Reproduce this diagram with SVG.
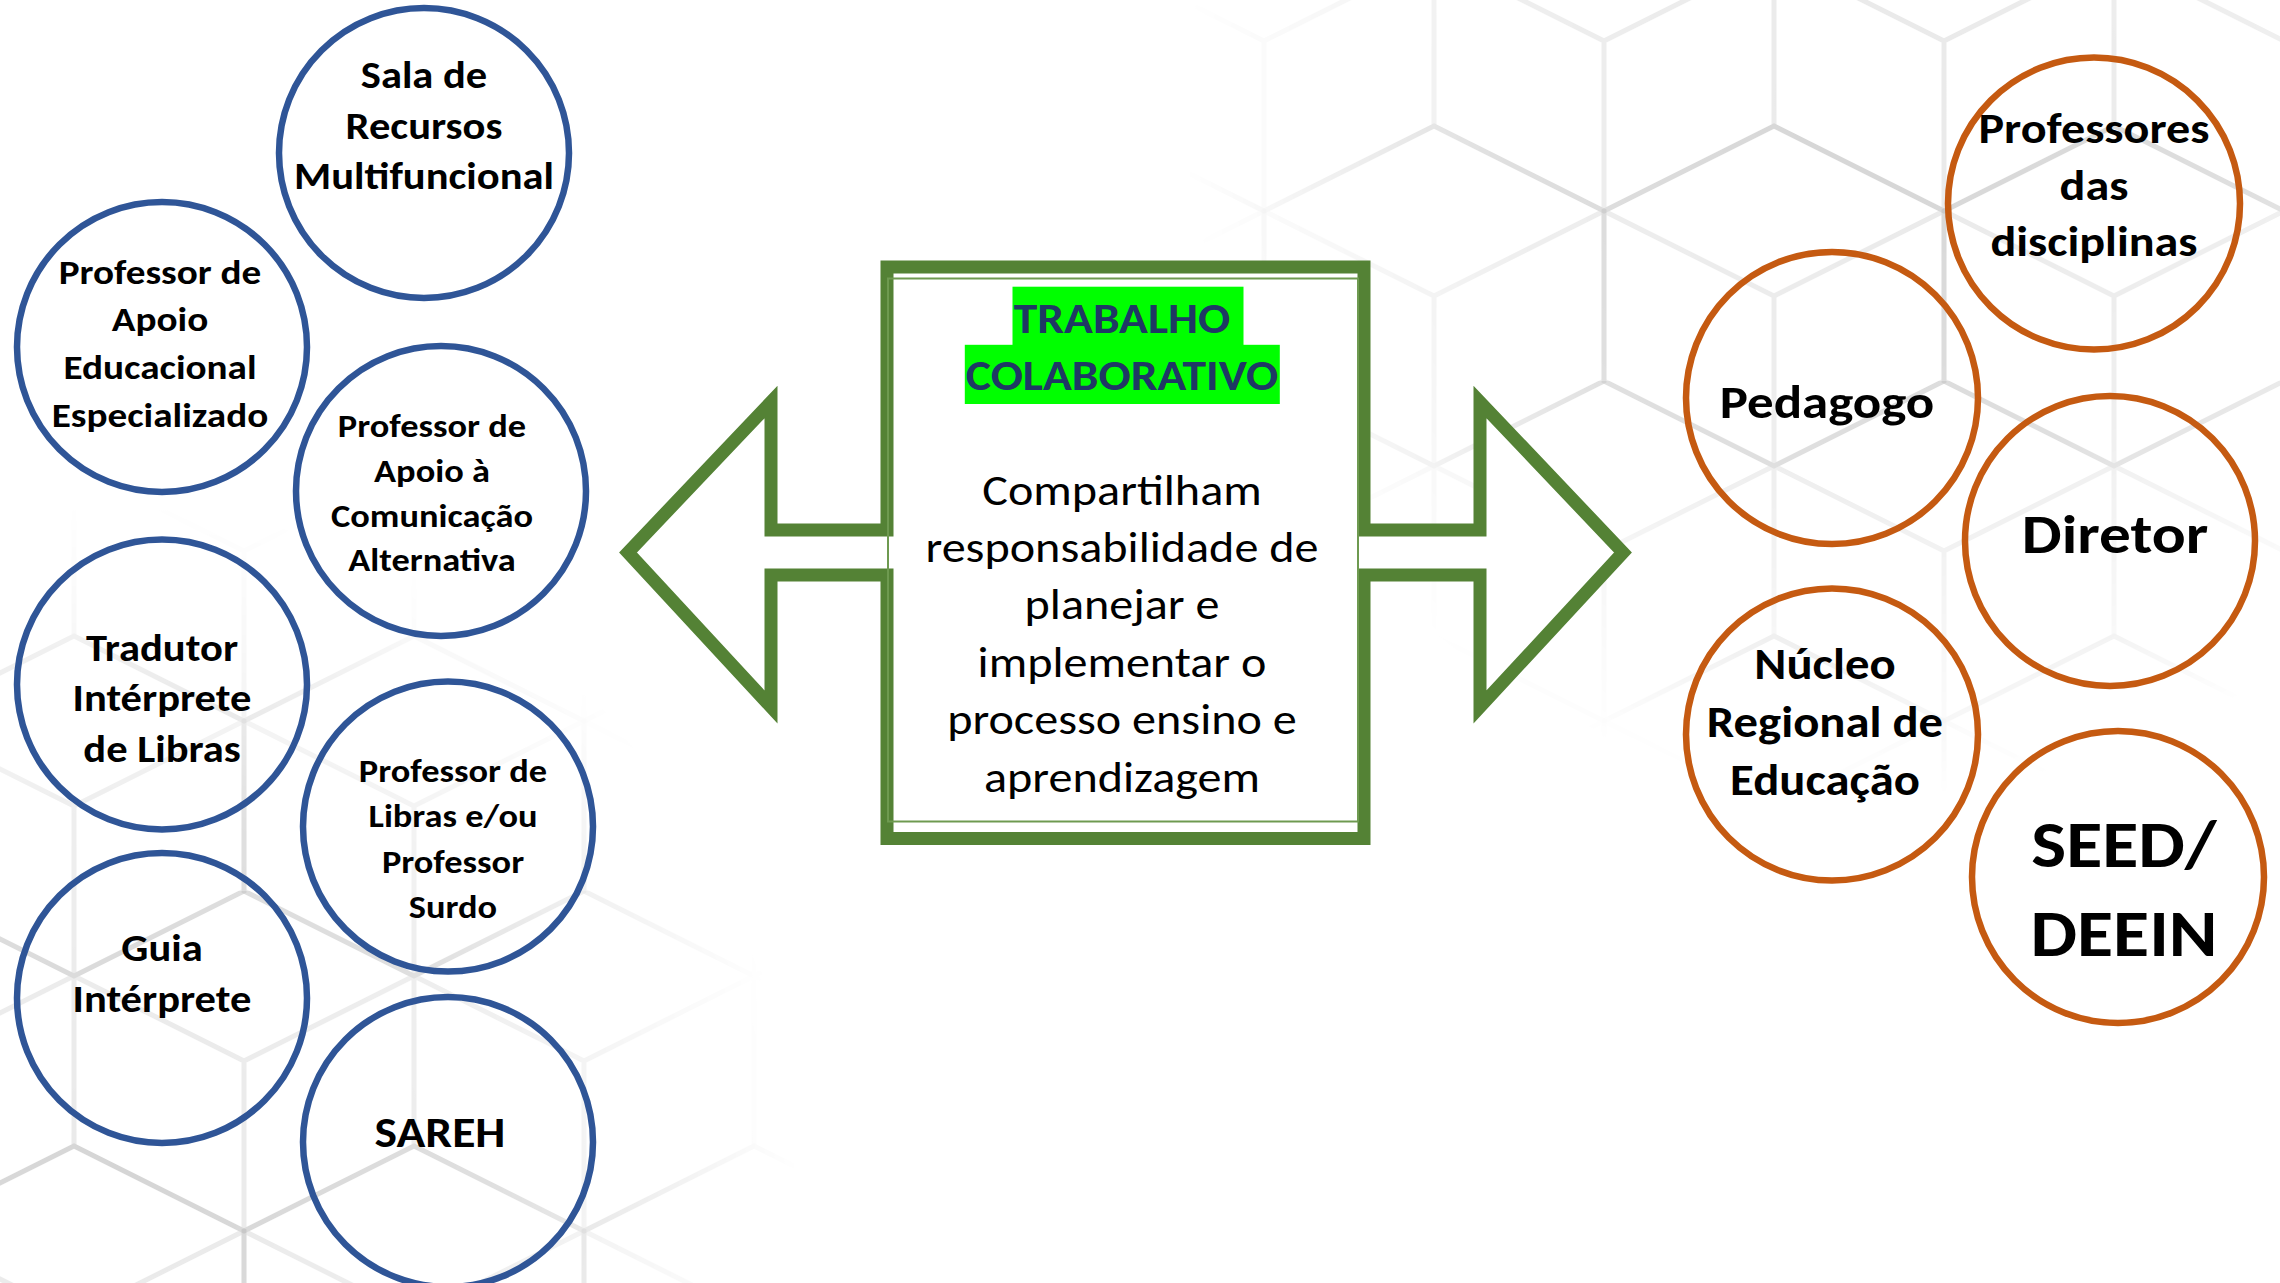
<svg xmlns="http://www.w3.org/2000/svg" width="2280" height="1283" viewBox="0 0 2280 1283">
<defs>
<style>
.bc{fill:none;stroke:#2F5597;stroke-width:6.5}
.oc{fill:none;stroke:#C55A11;stroke-width:6.5}
text{transform-box:fill-box;transform-origin:center;transform:scaleX(1.12)}
.w{transform:scaleX(1.15)}
.t{font-family:Carlito,Calibri,Lato,sans-serif;font-weight:bold;fill:#000;text-anchor:middle}
.b{font-family:Carlito,Calibri,Lato,sans-serif;font-weight:normal;fill:#000;text-anchor:middle;font-size:43px}
.h{font-family:Carlito,Calibri,Lato,sans-serif;font-weight:bold;fill:#1F3864;text-anchor:middle;font-size:42.5px}
.cube{fill:none;stroke:#000;stroke-opacity:0.085;stroke-width:5}
</style>
<pattern id="cubes" patternUnits="userSpaceOnUse" width="340" height="510" patternTransform="translate(1434,-129)">
<g class="cube">
<path id="cb" d="M170,0 L340,85 L340,255 L170,340 L0,255 L0,85 Z M0,85 L170,170 L340,85 M170,170 L170,340"/>
<use href="#cb" x="170" y="255"/>
<use href="#cb" x="-170" y="255"/>
<use href="#cb" x="170" y="-255"/>
<use href="#cb" x="-170" y="-255"/>
</g>
</pattern>
<radialGradient id="fade">
<stop offset="0" stop-color="#fff" stop-opacity="1"/>
<stop offset="0.55" stop-color="#fff" stop-opacity="0.75"/>
<stop offset="1" stop-color="#fff" stop-opacity="0"/>
</radialGradient>
<mask id="m">
<circle cx="1880" cy="100" r="700" fill="url(#fade)"/>
<circle cx="120" cy="1180" r="680" fill="url(#fade)"/>
</mask>
</defs>
<rect width="2280" height="1283" fill="#fff"/>
<rect width="2280" height="1283" fill="url(#cubes)" mask="url(#m)"/>

<g id="connectors"/>

<g id="center">
<path d="M887,267 H1364 V530 H1480 V402 L1623,552.5 L1480,707 V575 H1364 V838.5 H887 V575 H771 V707 L628,552.5 L771,402 V530 H887 Z" fill="#fff" stroke="#548235" stroke-width="13" stroke-miterlimit="10"/>
<rect x="888" y="278.5" width="470" height="543" fill="none" stroke="#6E9A50" stroke-width="2"/>
<rect x="1012.5" y="286.7" width="231" height="58.5" fill="#00FF00"/>
<rect x="964.8" y="344.8" width="315" height="59.2" fill="#00FF00"/>
<text class="h" x="1122" y="333">TRABALHO</text>
<text class="h" x="1122" y="390.3">COLABORATIVO</text>
<text class="b" x="1122" y="504.6">Compartilham</text>
<text class="b" x="1122" y="562.5">responsabilidade de</text>
<text class="b" x="1122" y="619.5">planejar e</text>
<text class="b" x="1122" y="677.3">implementar o</text>
<text class="b" x="1122" y="734.3">processo ensino e</text>
<text class="b" x="1122" y="792">aprendizagem</text>
</g>

<g id="sala">
<ellipse class="bc" cx="424" cy="153" rx="145" ry="145"/>
<text class="t" font-size="38" x="424" y="88">Sala de</text>
<text class="t" font-size="38" x="424" y="139">Recursos</text>
<text class="t" font-size="38" x="424" y="189">Multifuncional</text>
</g>
<g id="paee">
<ellipse class="bc" cx="162" cy="347" rx="145" ry="145"/>
<text class="t" font-size="35" x="160" y="283.7">Professor de</text>
<text class="t" font-size="35" x="160" y="331">Apoio</text>
<text class="t" font-size="35" x="160" y="379">Educacional</text>
<text class="t" font-size="35" x="160" y="427">Especializado</text>
</g>
<g id="paca">
<ellipse class="bc" cx="441" cy="491" rx="145" ry="145"/>
<text class="t" font-size="32.5" x="432" y="437">Professor de</text>
<text class="t" font-size="32.5" x="432" y="481.8">Apoio à</text>
<text class="t" font-size="32.5" x="432" y="526.6">Comunicação</text>
<text class="t" font-size="32.5" x="432" y="571.4">Alternativa</text>
</g>
<g id="tils">
<ellipse class="bc" cx="162" cy="684.5" rx="145" ry="145"/>
<text class="t" font-size="38" x="162" y="661">Tradutor</text>
<text class="t" font-size="38" x="162" y="711.5">Intérprete</text>
<text class="t" font-size="38" x="162" y="762">de Libras</text>
</g>
<g id="libras">
<ellipse class="bc" cx="448" cy="826.6" rx="145" ry="145"/>
<text class="t" font-size="32.5" x="453" y="782.5">Professor de</text>
<text class="t" font-size="32.5" x="453" y="827.5">Libras e/ou</text>
<text class="t" font-size="32.5" x="453" y="872.6">Professor</text>
<text class="t" font-size="32.5" x="453" y="917.6">Surdo</text>
</g>
<g id="guia">
<ellipse class="bc" cx="162" cy="998" rx="145" ry="145"/>
<text class="t" font-size="38" x="162" y="961.5">Guia</text>
<text class="t" font-size="38" x="162" y="1012">Intérprete</text>
</g>
<g id="sareh">
<ellipse class="bc" cx="448" cy="1142" rx="145" ry="145"/>
<text class="t" font-size="42.5" x="440" y="1147.5">SAREH</text>
</g>

<g id="professores">
<ellipse class="oc" cx="2094" cy="203.6" rx="146" ry="146"/>
<text class="t" font-size="43" x="2094" y="143">Professores</text>
<text class="t" font-size="43" x="2094" y="200">das</text>
<text class="t" font-size="43" x="2094" y="256.5">disciplinas</text>
</g>
<g id="pedagogo">
<ellipse class="oc" cx="1832" cy="398" rx="146" ry="146"/>
<text class="t w" font-size="46" x="1827" y="418">Pedagogo</text>
</g>
<g id="diretor">
<ellipse class="oc" cx="2110" cy="541" rx="145" ry="145"/>
<text class="t w" font-size="55" x="2115" y="553">Diretor</text>
</g>
<g id="nucleo">
<ellipse class="oc" cx="1832" cy="734.5" rx="146" ry="146"/>
<text class="t" font-size="43.5" x="1825" y="679.3">Núcleo</text>
<text class="t" font-size="43.5" x="1825" y="737.3">Regional de</text>
<text class="t" font-size="43.5" x="1825" y="795.3">Educação</text>
</g>
<g id="seed">
<ellipse class="oc" cx="2118" cy="877" rx="146" ry="146"/>
<text class="t" font-size="66" x="2124" y="866.6">SEED/</text>
<text class="t" font-size="66" x="2124" y="956.2">DEEIN</text>
</g>
</svg>
